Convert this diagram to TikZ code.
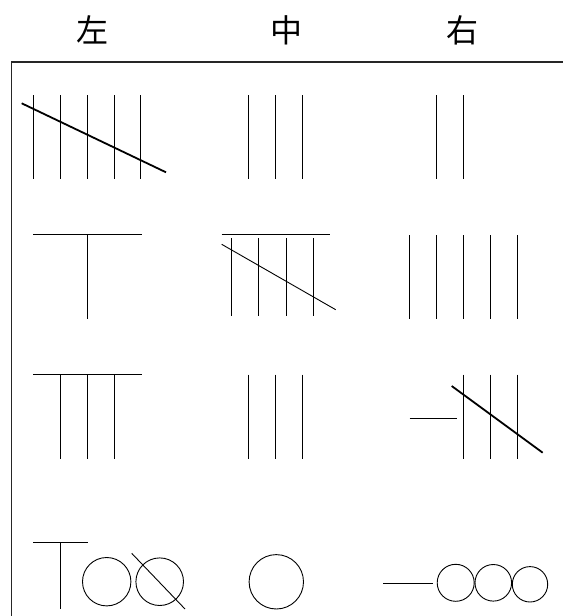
\documentclass[tikz,border=0pt]{standalone}
\usepackage{fontspec}
\newfontfamily\cjk{Noto Sans CJK SC}
\begin{document}
\begin{tikzpicture}[x=1pt,y=-1pt,
  thin line/.style={line width=0.9pt,black},
  thick line/.style={line width=1.8pt,black},
  frame line/.style={line width=1.8pt,black!85},
  head/.style={font=\cjk\fontsize{32}{32}\selectfont,inner sep=0pt}]
\useasboundingbox (0,0) rectangle (563,616);
% headings
\node[head] (l) at (92.5,30) {左};
\node[head] (m) at (286.5,30) {中};
\node[head] (r) at (462,30) {右};
% frame
\draw[frame line] (11.5,616) -- (11.5,62) -- (563,62);
% row 1
\foreach \x in {33.3,60.3,87.7,114.3,140.7} \draw[thin line] (\x,95) -- (\x,179.3);
\draw[thick line] (21.7,103.3) -- (166,172.3);
\foreach \x in {248.7,275.7,302.3} \draw[thin line] (\x,95) -- (\x,179.3);
\foreach \x in {436.7,463.3} \draw[thin line] (\x,95) -- (\x,179.3);
% row 2
\draw[thin line] (33.3,234.7) -- (141.7,234.7);
\draw[thin line] (87.7,234.7) -- (87.7,319.3);
\draw[thin line] (221.7,234.7) -- (330,234.7);
\foreach \x in {231.3,258.7,286,313} \draw[thin line] (\x,238) -- (\x,316);
\draw[thin line] (221.7,244.3) -- (335.7,309.7);
\foreach \x in {409.7,436.7,463.7,490.7,517} \draw[thin line] (\x,235) -- (\x,319.3);
% row 3
\draw[thin line] (33.3,374.7) -- (141.7,374.7);
\foreach \x in {60.3,87.7,114} \draw[thin line] (\x,374.7) -- (\x,459.3);
\foreach \x in {248.7,275.3,302.3} \draw[thin line] (\x,374.7) -- (\x,459.3);
\draw[thin line] (409.7,418.3) -- (457,418.3);
\foreach \x in {463.7,490.7,517} \draw[thin line] (\x,374.7) -- (\x,459.3);
\draw[thick line] (451.7,386) -- (542.7,452.7);
% row 4
\draw[thin line] (33.3,542.3) -- (88.3,542.3);
\draw[thin line] (60.3,542.3) -- (60.3,609.3);
\draw[thin line] (106.7,581.7) circle[radius=24.2];
\draw[thin line] (159.7,581.7) circle[radius=23.8];
\draw[thin line] (131.7,553.3) -- (185,609);
\draw[thin line] (276.3,581.8) circle[radius=27.2];
\draw[thin line] (383.3,583.3) -- (432.7,583.3);
\draw[thin line] (455.7,582.8) circle[radius=18.5];
\draw[thin line] (493.3,582.8) circle[radius=18.3];
\draw[thin line] (530,584.3) circle[radius=17.7];
\end{tikzpicture}
\end{document}
